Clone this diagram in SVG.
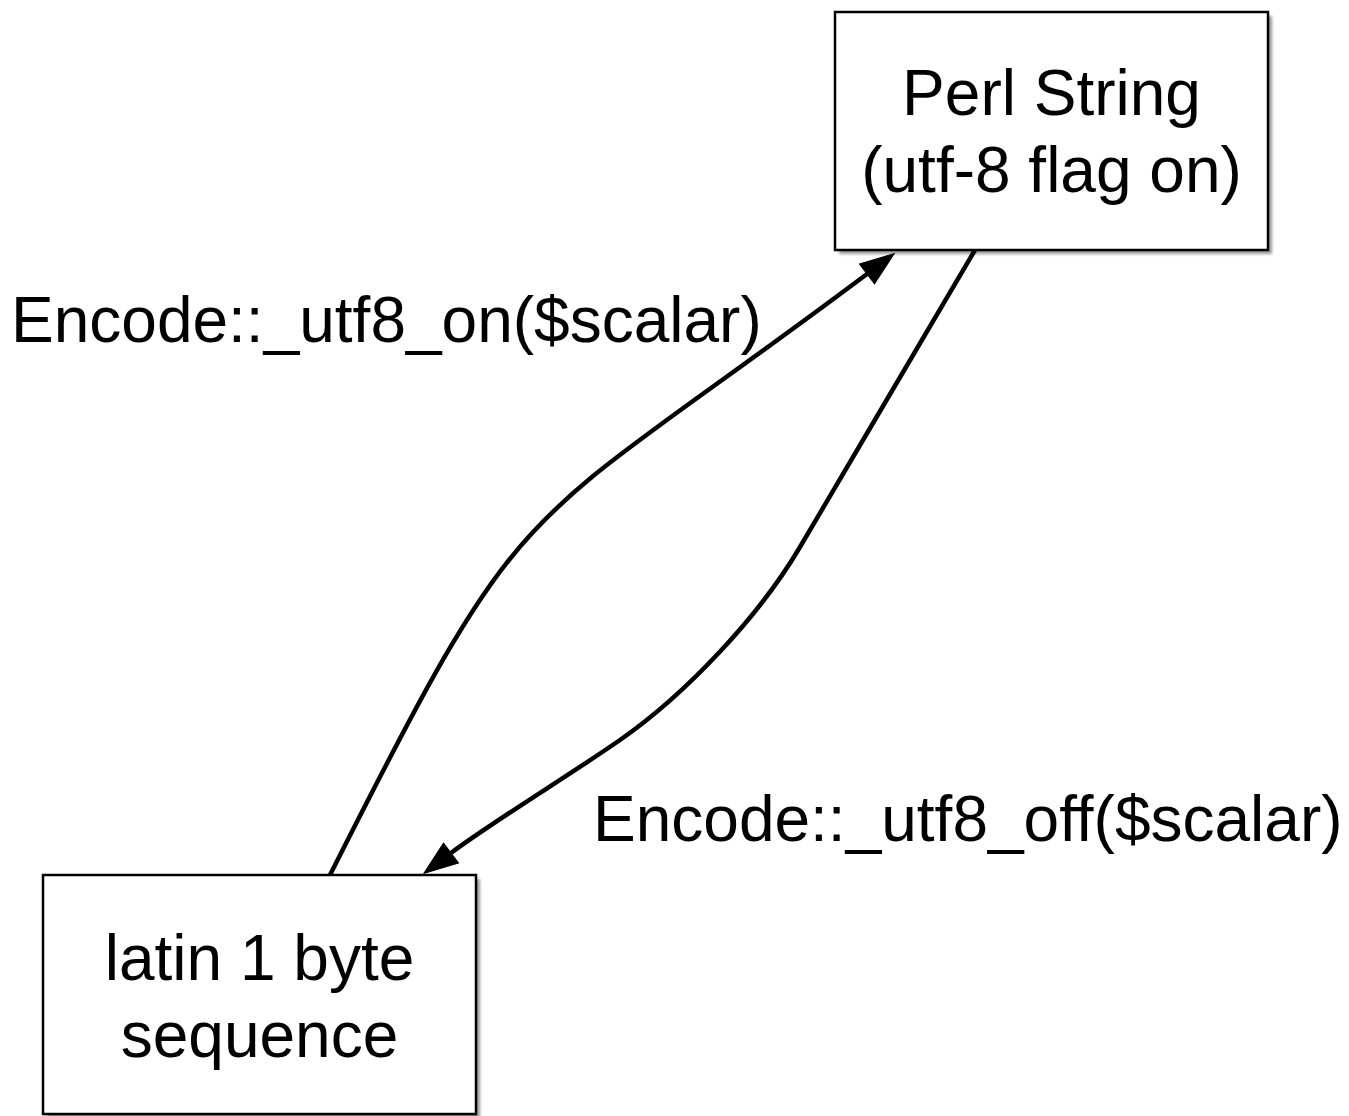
<svg xmlns="http://www.w3.org/2000/svg" width="1349" height="1116" viewBox="0 0 1349 1116">
  <style>
    .box { fill: #ffffff; stroke: #000000; stroke-width: 2.5; }
    .shadow { fill: #000000; opacity: 0.4; filter: url(#soft); }
    .node-text { font-family: "Liberation Sans", Arial, Helvetica, sans-serif; font-size: 64px; fill: #000000; text-anchor: middle; }
    .label { font-family: "Liberation Sans", Arial, Helvetica, sans-serif; font-size: 64px; fill: #000000; }
    .edge { fill: none; stroke: #000000; stroke-width: 4.5; marker-end: url(#arrow); }
  </style>
  <defs>
    <filter id="soft" x="-10%" y="-10%" width="120%" height="120%">
      <feGaussianBlur stdDeviation="1.8"/>
    </filter>
    <marker id="arrow" markerUnits="userSpaceOnUse" viewBox="-1 -14 37 28" markerWidth="37" markerHeight="28" refX="0" refY="0" orient="auto" overflow="visible">
      <path d="M0,-12.5 L34,0 L0,12.5 Z" fill="#000000" stroke="#000000" stroke-width="1"/>
    </marker>
  </defs>

  <rect width="1349" height="1116" fill="#ffffff"/>

  <!-- nodes -->
  <g id="perl-string">
    <rect class="shadow" x="839" y="16" width="433" height="238"/>
    <rect class="box" x="835" y="12" width="433" height="238"/>
    <text class="node-text" x="1051.5" y="115">Perl String</text>
    <text class="node-text" x="1051.5" y="192">(utf-8 flag on)</text>
  </g>

  <g id="latin1-bytes">
    <rect class="shadow" x="47" y="879" width="433" height="239"/>
    <rect class="box" x="43" y="875" width="433" height="239"/>
    <text class="node-text" x="259.5" y="980">latin 1 byte</text>
    <text class="node-text" x="259.5" y="1057">sequence</text>
  </g>

  <!-- connectors -->
  <g id="connectors">
    <path id="edge-utf8-on" class="edge" d="M330,875 C533.3,471.6 510.4,541.4 867,274"/>
    <path id="edge-utf8-off" class="edge" d="M975,250 C916.7,349 858.3,448 800,547 C759.4,616 685.6,694.4 620,740 C570.8,774.2 491,823 451,853"/>
  </g>

  <!-- connector labels -->
  <g id="labels">
    <text class="label" x="11" y="342">Encode::_utf8_on($scalar)</text>
    <text class="label" x="593" y="841">Encode::_utf8_off($scalar)</text>
  </g>
</svg>
